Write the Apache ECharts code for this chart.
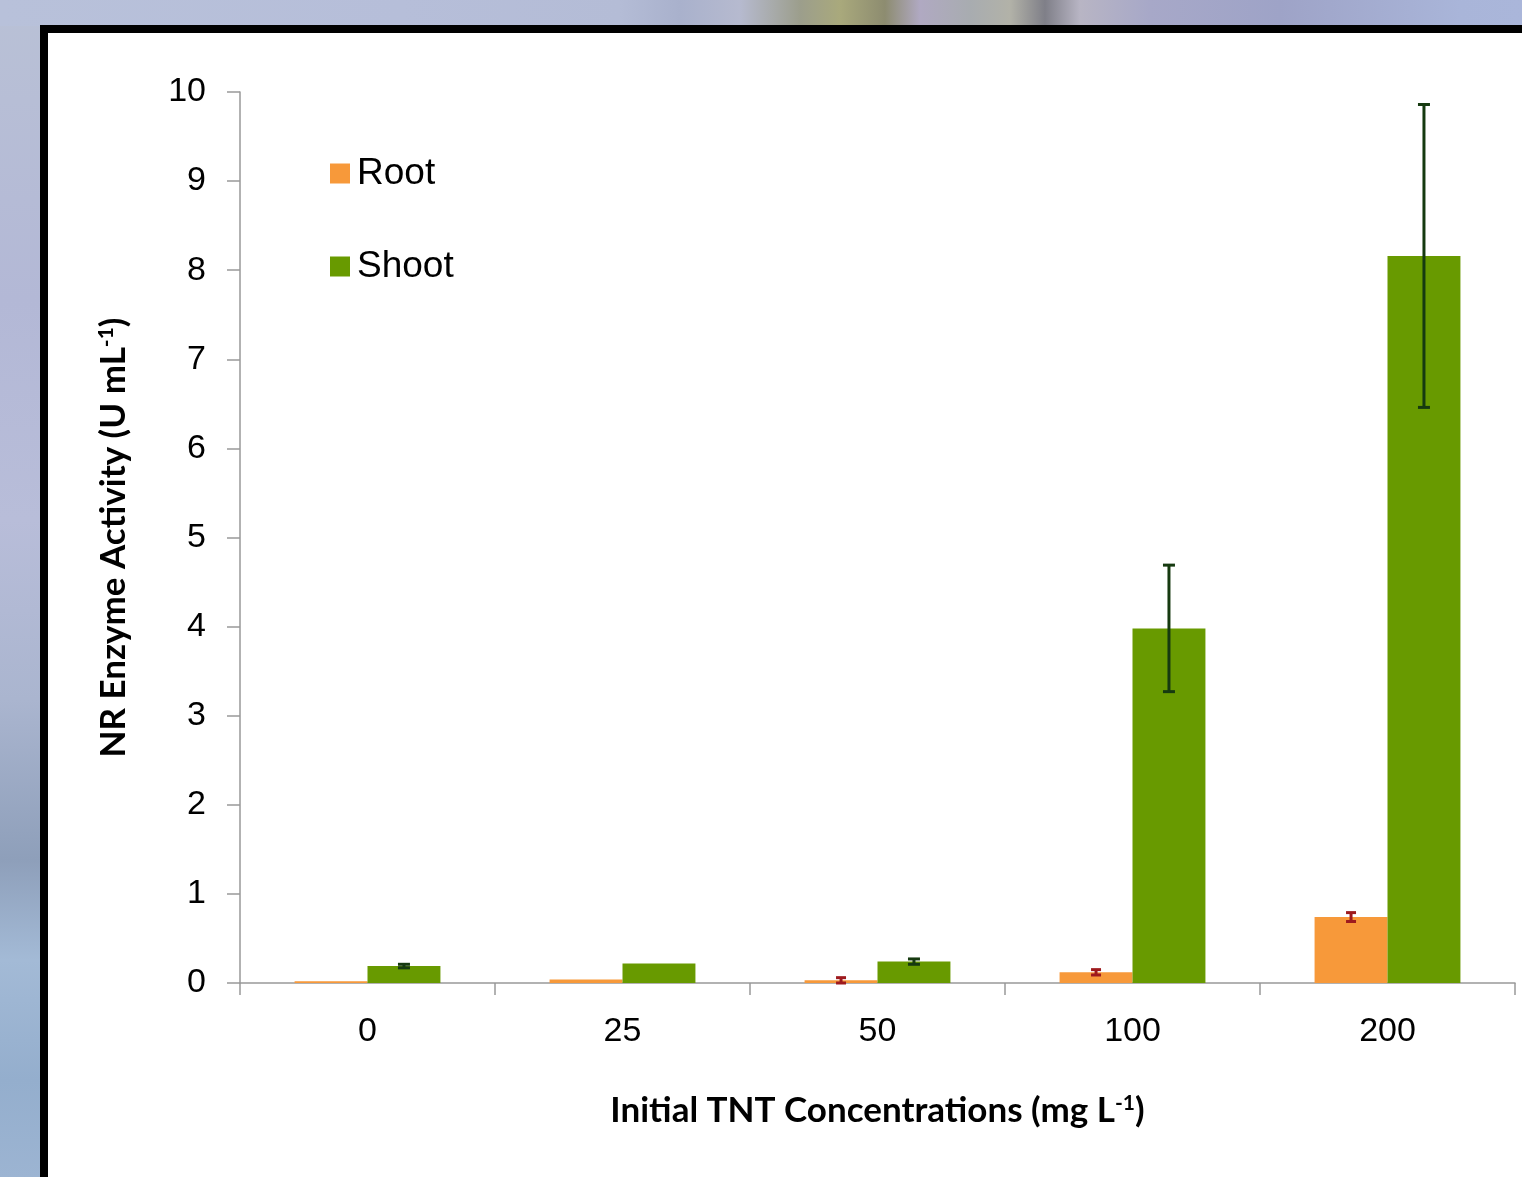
<!DOCTYPE html>
<html>
<head>
<meta charset="utf-8">
<script src="https://cdn.jsdelivr.net/npm/echarts@6/dist/echarts.min.js"></script>
<style>
  html, body { margin: 0; padding: 0; width: 1522px; height: 1177px; overflow: hidden; }
  body {
    background: linear-gradient(to bottom,
      #b9c1d6 0px, #b3b8d6 300px, #b8bdd9 520px, #aab5cf 700px,
      #8e9fba 860px, #a3bad6 960px, #94aecd 1080px, #9cb4d2 1177px);
    position: relative;
  }
  #topband {
    position: absolute; left: 0; top: 0; width: 1522px; height: 26px;
    background: linear-gradient(to right,
      #b8c1da 0px, #b6bed9 400px, #b4bcd6 620px, #a9b1cc 680px, #b6bacf 740px,
      #9c9e8c 800px, #a9a97c 840px, #8d8c70 885px, #b0a9c2 920px,
      #a8acb0 970px, #b2b2a8 1010px, #7f7f88 1045px, #b8b5c4 1080px,
      #a7a8c8 1150px, #9ea3c7 1280px, #a9b5d9 1460px, #aab6da 1522px);
  }
  #panel {
    position: absolute; left: 40px; top: 25px; width: 1500px; height: 1200px;
    box-sizing: border-box; border: 8px solid #000; background: #fff;
  }
  #chart { position: absolute; left: 0; top: 0; width: 1522px; height: 1177px; }
</style>
</head>
<body>
<div id="topband"></div>
<div id="panel"></div>
<div id="chart"></div>
<script>
// TNT concentration groups and NR enzyme activity (U mL-1)
const categories = ['0', '25', '50', '100', '200'];
const rootValues = [0.02, 0.04, 0.03, 0.12, 0.74];
const rootErrors = [0, 0, 0.03, 0.03, 0.05];
const shootValues = [0.19, 0.22, 0.24, 3.98, 8.16];
const shootErrors = [0.02, 0, 0.03, 0.71, 1.70];
const yTicks = { min: 0, max: 10, interval: 1 };

const ROOT_COLOR = '#f7993a';
const SHOOT_COLOR = '#689a00';
const BAR_FRACTION = 0.286; // bar width as share of the category band

function errorData(values, errors) {
  return values.map((v, i) => [i, v - errors[i], v + errors[i], errors[i]]);
}

function errorRenderer(side, color, capHalf) {
  return function (params, api) {
    if (api.value(3) <= 0) return null;
    const idx = api.value(0);
    const band = api.size([1, 0])[0];
    const dx = side * band * BAR_FRACTION / 2;
    const lo = api.coord([idx, api.value(1)]);
    const hi = api.coord([idx, api.value(2)]);
    const x = lo[0] + dx;
    const style = { stroke: color, lineWidth: 3 };
    return {
      type: 'group',
      children: [
        { type: 'line', shape: { x1: x, y1: lo[1], x2: x, y2: hi[1] }, style },
        { type: 'line', shape: { x1: x - capHalf, y1: lo[1], x2: x + capHalf, y2: lo[1] }, style },
        { type: 'line', shape: { x1: x - capHalf, y1: hi[1], x2: x + capHalf, y2: hi[1] }, style }
      ]
    };
  };
}

const tickFont = 'Liberation Sans, Arial, sans-serif';
const titleFont = 'Lato, Open Sans, sans-serif';

const chart = echarts.init(document.getElementById('chart'), null, { renderer: 'canvas' });
chart.setOption({
  animation: false,
  backgroundColor: 'transparent',
  grid: { left: 240, top: 92, right: 7, bottom: 194, containLabel: false },
  legend: {
    data: ['Root', 'Shoot'],
    orient: 'vertical',
    left: 330,
    top: 155,
    padding: 0,
    itemGap: 56,
    itemWidth: 20,
    itemHeight: 20,
    icon: 'rect',
    textStyle: { fontFamily: tickFont, fontSize: 37, color: '#000', padding: [2, 0, 0, 2] }
  },
  xAxis: {
    type: 'category',
    data: categories,
    boundaryGap: true,
    axisLine: { lineStyle: { color: '#999', width: 1.5 } },
    axisTick: { show: true, length: 12, lineStyle: { color: '#999', width: 1.5 } },
    axisLabel: { fontFamily: tickFont, fontSize: 34, color: '#000', margin: 32 },
    name: 'Initial TNT Concentrations (mg L{sup|-1})',
    nameLocation: 'middle',
    nameGap: 110,
    nameTextStyle: {
      fontFamily: titleFont, fontWeight: 'bold', fontSize: 35, color: '#000',
      rich: { sup: { fontFamily: titleFont, fontWeight: 'bold', fontSize: 21, verticalAlign: 'top', padding: [0, 0, 14, 0] } }
    }
  },
  yAxis: {
    type: 'value',
    min: yTicks.min,
    max: yTicks.max,
    interval: yTicks.interval,
    splitLine: { show: false },
    axisLine: { show: true, lineStyle: { color: '#999', width: 1.5 } },
    axisTick: { show: true, length: 13, lineStyle: { color: '#999', width: 1.5 } },
    axisLabel: { fontFamily: tickFont, fontSize: 34, color: '#000', margin: 34 },
    name: 'NR Enzyme Activity (U mL{sup|-1})',
    nameLocation: 'middle',
    nameRotate: 90,
    nameGap: 109,
    nameTextStyle: {
      fontFamily: titleFont, fontWeight: 'bold', fontSize: 35, color: '#000',
      rich: { sup: { fontFamily: titleFont, fontWeight: 'bold', fontSize: 21, verticalAlign: 'top', padding: [0, 0, 14, 0] } }
    }
  },
  series: [
    {
      name: 'Root', type: 'bar', data: rootValues,
      barWidth: (BAR_FRACTION * 100) + '%', barGap: '0%',
      itemStyle: { color: ROOT_COLOR }
    },
    {
      name: 'Shoot', type: 'bar', data: shootValues,
      barWidth: (BAR_FRACTION * 100) + '%', barGap: '0%',
      itemStyle: { color: SHOOT_COLOR }
    },
    {
      name: 'Root error', type: 'custom', data: errorData(rootValues, rootErrors),
      renderItem: errorRenderer(-1, '#9e1a1e', 5), z: 5, silent: true
    },
    {
      name: 'Shoot error', type: 'custom', data: errorData(shootValues, shootErrors),
      renderItem: errorRenderer(1, '#163a10', 6), z: 5, silent: true
    }
  ]
});
</script>
</body>
</html>
